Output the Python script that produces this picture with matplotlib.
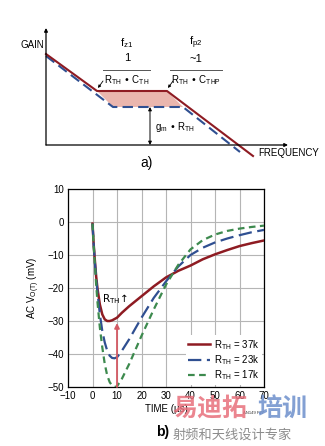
import matplotlib
matplotlib.use("Agg")
import matplotlib.pyplot as plt
from matplotlib.patches import Polygon

plt.rcParams['font.family'] = ['Liberation Sans Narrow', 'Liberation Sans', 'DejaVu Sans']
plt.rcParams['mathtext.default'] = 'regular'

#--- Data: panel a) gain schematic (abstract units) ---
red_f = [0, 5.1, 12.1, 20.7]
red_g = [9.1, 5.4, 5.4, -1.1]
blue_f = [0, 6.7, 13.7, 19.4]
blue_g = [8.9, 3.8, 3.8, -0.7]

#--- Data: panel b) transient response ---
t_red = [0, 0.5, 1, 1.5, 2, 3, 4, 5, 6, 7, 8, 10, 12, 15, 20, 25, 30, 35, 40, 45, 50, 55, 60, 65, 70]
v_red = [-0.5, -7, -12, -16.5, -20, -25, -28, -29.5, -30, -30, -29.8, -29, -27.5, -25.5, -22.5,
         -19.5, -16.8, -14.8, -13.2, -11.3, -9.8, -8.5, -7.3, -6.4, -5.6]
t_cmp = [0, 0.5, 1, 1.5, 2, 3, 4, 5, 6, 7, 8, 9, 10, 12, 15, 20, 25, 30, 35, 40, 45, 50, 55, 60, 65, 70]
v_blue = [-0.5, -7, -12.5, -17, -21, -28, -33, -36.5, -39, -40.5, -41.2, -41.3, -41, -39, -35.5,
          -29, -23, -18, -13.5, -10, -7.8, -6.2, -5, -4, -3.1, -2.4]
v_green = [-0.5, -7.5, -13, -19, -24, -32, -38, -43, -46.5, -48.5, -49.6, -50, -49.8, -47.5, -43,
           -34.5, -26.5, -19, -13, -8.3, -5.5, -3.8, -2.7, -2, -1.5, -1.1]
labels = ['$R_{TH}$ = 37k', '$R_{TH}$ = 23k', '$R_{TH}$ = 17k']

RED = '#8e1b22'
BLUE = '#2f4f91'
GREEN = '#3d8a4e'

fig = plt.figure(figsize=(3.25, 4.46), dpi=100)

#--- Panel a) ---
W, H = 325.0, 446.0
axa = fig.add_axes([46 / W, 1 - 145 / H, 250 / W, 120 / H])
axa.set_xlim(0, 25)
axa.set_ylim(0, 12)
axa.axis('off')

axa.add_patch(Polygon([(red_f[1], red_g[1]), (red_f[2], red_g[2]), (blue_f[2], blue_g[2]), (blue_f[1], blue_g[1])],
                      closed=True, facecolor='#eab6ae', edgecolor='none', zorder=1))
axa.plot(blue_f, blue_g, color=BLUE, lw=1.5, dashes=(5, 2.5), clip_on=False, zorder=2)
axa.plot(red_f, red_g, color=RED, lw=1.5, clip_on=False, zorder=3)

# axes arrows
axa.annotate('', xy=(0, 11.7), xytext=(0, 0), arrowprops=dict(arrowstyle='-|>', color='black', lw=0.9,
             mutation_scale=5, shrinkA=0, shrinkB=0), annotation_clip=False)
axa.annotate('', xy=(24.2, 0), xytext=(0, 0), arrowprops=dict(arrowstyle='-|>', color='black', lw=0.9,
             mutation_scale=5, shrinkA=0, shrinkB=0), annotation_clip=False)
axa.text(-1.4, 10.0, 'GAIN', fontsize=7, ha='center', va='center')
axa.text(21.2, -0.8, 'FREQUENCY', fontsize=7, ha='left', va='center')
axa.text(10.1, -1.8, 'a)', fontsize=10, ha='center', va='center')

# pole / zero labels
axa.text(8.1, 10.2, '$f_{z1}$', fontsize=8, ha='center', va='center')
axa.text(8.1, 8.7, '1', fontsize=8, ha='center', va='center')
axa.plot([5.7, 10.4], [7.5, 7.5], color='#555555', lw=0.7)
axa.text(8.1, 6.5, '$R_{TH}$ • $C_{TH}$', fontsize=7, ha='center', va='center')
axa.text(15.0, 10.2, '$f_{p2}$', fontsize=8, ha='center', va='center')
axa.text(15.0, 8.6, '~1', fontsize=8, ha='center', va='center')
axa.plot([12.4, 17.6], [7.5, 7.5], color='#555555', lw=0.7)
axa.text(15.0, 6.5, '$R_{TH}$ • $C_{THP}$', fontsize=7, ha='center', va='center')
for x0 in (5.7, 12.7):
    axa.annotate('', xy=(x0 - 0.5, 5.7), xytext=(x0, 6.4),
                 arrowprops=dict(arrowstyle='-|>', color='black', lw=0.6, mutation_scale=4,
                                 shrinkA=0, shrinkB=0))

# g_m * R_TH arrow
axa.annotate('', xy=(10.4, 0), xytext=(10.4, 3.8),
             arrowprops=dict(arrowstyle='<|-|>', color='black', lw=0.7, mutation_scale=5,
                             shrinkA=0, shrinkB=0))
axa.text(10.9, 1.8, '$g_m$ • $R_{TH}$', fontsize=7, ha='left', va='center')

#--- Panel b) ---
axb = fig.add_axes([68 / W, 1 - 387 / H, 196 / W, 198 / H])
axb.plot(t_red, v_red, color=RED, lw=1.8, label=labels[0], zorder=3)
axb.plot(t_cmp, v_blue, color=BLUE, lw=1.6, dashes=(6, 2.5), label=labels[1], zorder=3)
axb.plot(t_cmp, v_green, color=GREEN, lw=1.6, dashes=(3, 2), label=labels[2], zorder=3)

axb.annotate('', xy=(10, -30.6), xytext=(10, -50),
             arrowprops=dict(arrowstyle='-|>', color='#d45a64', lw=1.3, mutation_scale=7,
                             shrinkA=0, shrinkB=0), zorder=4)
axb.text(3.8, -23.3, '$R_{TH}$↑', fontsize=7.5, ha='left', va='center',
         family=['Liberation Sans Narrow', 'DejaVu Sans'])

axb.set_xlim(-10, 70)
axb.set_ylim(-50, 10)
axb.set_xticks(range(-10, 71, 10))
axb.set_yticks(range(-50, 11, 10))
axb.set_yticklabels(['−50', '−40', '−30', '−20', '−10', '0', '10'])
axb.set_xticklabels(['−10', '0', '10', '20', '30', '40', '50', '60', '70'])
axb.tick_params(labelsize=7, length=0, pad=3)
axb.grid(True, color='#b5b5b5', lw=0.8)
axb.set_axisbelow(True)
for s in axb.spines.values():
    s.set_linewidth(0.9)
axb.set_xlabel('TIME (µs)', fontsize=7, labelpad=2)
axb.set_ylabel('AC $V_{O(T)}$ (mV)', fontsize=7, labelpad=4)

leg = axb.legend(loc='lower right', fontsize=7, frameon=True, handlelength=2.2,
                 borderpad=0.3, labelspacing=0.15, handletextpad=0.4, borderaxespad=0.2)
leg.get_frame().set_facecolor('white')
leg.get_frame().set_edgecolor('none')
leg.get_frame().set_alpha(1)

fig.text(253 / W, 1 - 413 / H, 'AN149 F27', fontsize=3, ha='center', va='center', color='#333333')
fig.text(163 / W, 1 - 432 / H, 'b)', fontsize=10, fontweight='bold', ha='center', va='center')

# watermark
cjk = ['Noto Sans CJK SC', 'DejaVu Sans']
fig.text(172 / W, 1 - 409 / H, '易迪拓', fontsize=18, fontweight='bold', color='#e8707c', alpha=0.85,
         ha='left', va='center', family=cjk)
fig.text(257 / W, 1 - 409 / H, '培训', fontsize=18, fontweight='bold', color='#6d8fcc', alpha=0.85,
         ha='left', va='center', family=cjk)
fig.text(173 / W, 1 - 435 / H, '射频和天线设计专家', fontsize=9.5, color='#8c8c8c',
         ha='left', va='center', family=cjk)

fig.savefig('out.png', dpi=100)
